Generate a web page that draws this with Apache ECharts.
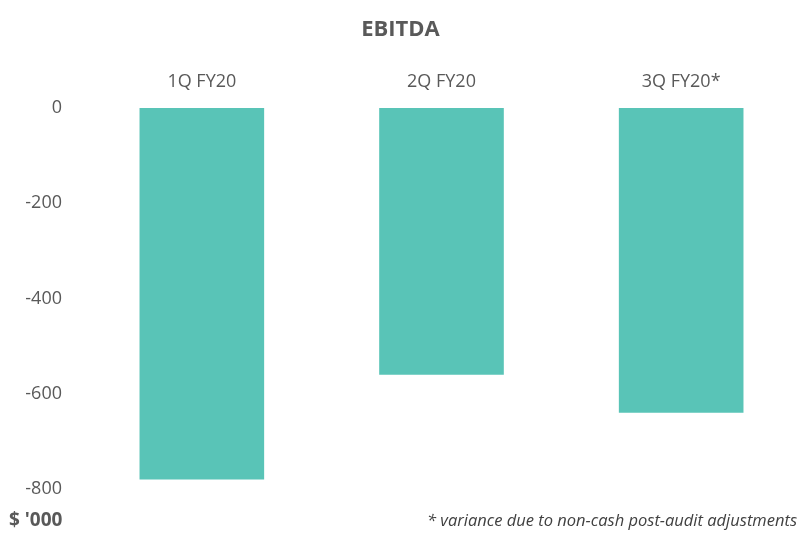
<!DOCTYPE html>
<html>
<head>
<meta charset="utf-8">
<script src="https://cdn.jsdelivr.net/npm/echarts@6/dist/echarts.min.js"></script>
<style>
  html, body { margin: 0; padding: 0; background: #fff; }
  #chart { width: 801px; height: 536px; }
</style>
</head>
<body>
<div id="chart"></div>
<script>
var categories = ['1Q FY20', '2Q FY20', '3Q FY20*']
var ebitda = [-780, -560, -640]

var chart = echarts.init(document.getElementById('chart'))
var font = "'Open Sans', sans-serif"
var option = {
  title: {
    text: 'EBITDA',
    left: 'center',
    top: 14,
    textStyle: { fontFamily: font, fontSize: 22, fontWeight: 'bold', color: '#595959' }
  },
  grid: {
    left: 82,
    right: 0,
    top: 108,
    bottom: 47
  },
  xAxis: {
    type: 'category',
    position: 'top',
    data: categories,
    axisLine: { show: false },
    axisTick: { show: false },
    axisLabel: { fontFamily: font, fontSize: 18, color: '#595959', margin: 17 }
  },
  yAxis: {
    type: 'value',
    min: -800,
    max: 0,
    interval: 200,
    splitLine: { show: false },
    axisLine: { show: false },
    axisTick: { show: false },
    axisLabel: { fontFamily: font, fontSize: 18, color: '#595959', margin: 20 }
  },
  series: [{
    type: 'bar',
    data: ebitda,
    barWidth: '52%',
    itemStyle: { color: '#59c4b7' }
  }],
  graphic: [
    {
      type: 'text', left: 9, top: 511,
      style: { text: "$ '000", fontFamily: font, fontSize: 19, fontWeight: 'bold', fill: '#595959' }
    },
    {
      type: 'text', right: 4, top: 513,
      style: { text: '* variance due to non-cash post-audit adjustments', fontFamily: font, fontSize: 16.5, fontStyle: 'italic', fill: '#404040' }
    }
  ]
}
chart.setOption(option)
</script>
</body>
</html>
